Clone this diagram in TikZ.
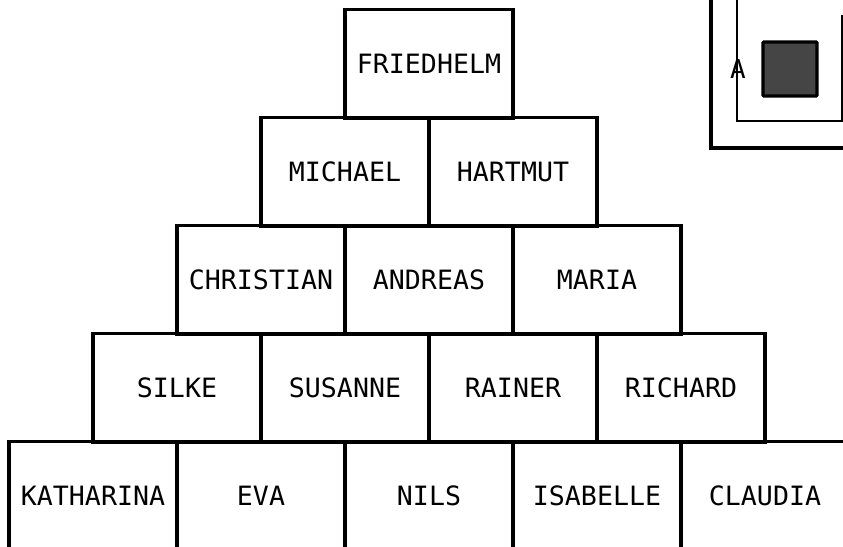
\documentclass[tikz,border=0pt]{standalone}
\usepackage{fontspec}
\setmonofont{DejaVu Sans Mono}
\usepackage{tikz}

\begin{document}
\begin{tikzpicture}[x=1pt, y=-1pt,
  namebox/.style={draw, line width=3.2pt, minimum width=168pt, minimum height=108.25pt,
    inner sep=0pt, font=\ttfamily\fontsize{26.6}{30}\selectfont}]
\useasboundingbox (0,0) rectangle (843,546);
\node[namebox] (friedhelm) at (429,64) {FRIEDHELM};
\node[namebox] (michael) at (345,172) {MICHAEL};
\node[namebox] (hartmut) at (513,172) {HARTMUT};
\node[namebox] (christian) at (261,280) {CHRISTIAN};
\node[namebox] (andreas) at (429,280) {ANDREAS};
\node[namebox] (maria) at (597,280) {MARIA};
\node[namebox] (silke) at (177,388) {SILKE};
\node[namebox] (susanne) at (345,388) {SUSANNE};
\node[namebox] (rainer) at (513,388) {RAINER};
\node[namebox] (richard) at (681,388) {RICHARD};
\node[namebox] (katharina) at (93,496) {KATHARINA};
\node[namebox] (eva) at (261,496) {EVA};
\node[namebox] (nils) at (429,496) {NILS};
\node[namebox] (isabelle) at (597,496) {ISABELLE};
\node[namebox] (claudia) at (765,496) {CLAUDIA};
% key in the corner
\draw[line width=3.2pt] (711,-5) |- (850,148);
\draw[line width=1.6pt] (737,-5) |- (842,121) -- (842,15);
\node[draw, line width=3.2pt, fill=black!73, minimum size=54pt, inner sep=0pt, rounded corners=1pt] (keybox) at (790,69) {};
\node[font=\ttfamily\fontsize{26}{30}\selectfont, inner sep=0pt] (keylabel) at (738,69) {A};
\end{tikzpicture}
\end{document}
